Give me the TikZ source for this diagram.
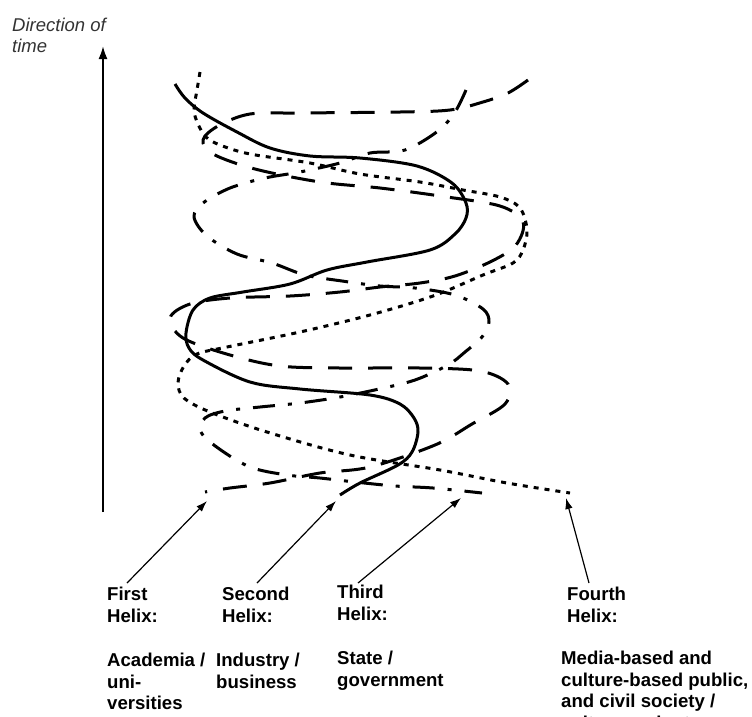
\documentclass[tikz,border=0pt]{standalone}
\usepackage{fontspec}
\setmainfont{Liberation Sans}
\usetikzlibrary{arrows.meta}
\begin{document}
\begin{tikzpicture}[x=1pt,y=-1pt,
  strand/.style={line width=3pt, line cap=butt, line join=round},
  helixA/.style={strand, dash pattern=on 24pt off 16pt},
  helixB/.style={strand},
  helixC/.style={strand, dash pattern=on 22pt off 13pt on 4pt off 13pt},
  helixD/.style={strand, dash pattern=on 5pt off 6pt},
  pointer/.style={line width=1.2pt, -{Latex[length=11pt,width=7.5pt]}},
  helixlabel/.style={anchor=north west, inner sep=0pt, align=left,
    font=\fontsize{18.6}{21.5}\selectfont\bfseries},
  curvy/.style={smooth, tension=0.55}]
\useasboundingbox (0,0) rectangle (752,716);
\clip (0,0) rectangle (752,716);

% time axis
\coordinate (tbot) at (103,512);
\coordinate (ttop) at (103,46);
\draw[line width=2pt, -{Latex[length=13pt,width=9pt]}] (tbot) -- (ttop);
\node[anchor=north west, inner sep=0pt, align=left, text=black!80,
  font=\fontsize{18.5}{20.5}\selectfont\itshape] (timelabel) at (12,18) {Direction of\\time};

% first helix (long dashes)
\draw[helixA] plot[curvy] coordinates {(528,80) (508,93) (483,102) (450,110) (400,112)
  (300,113) (250,114) (218,126) (203,140) (213,154) (255,169) (320,182) (380,188)
  (440,196) (500,206) (523,222) (516,245) (492,261) (455,276) (420,283) (380,287)
  (340,292) (290,296) (230,298) (190,304) (170,318) (183,338) (230,355) (280,366)
  (340,368) (420,368) (480,371) (508,384) (505,404) (472,424) (435,445) (370,467)
  (320,473) (270,483) (230,488) (205,492)};

% second helix (solid)
\draw[helixB] plot[curvy] coordinates {(175,84) (185,98) (203,113) (237,132) (270,148)
  (310,156) (360,158) (417,166) (452,183) (466,203) (466,218) (455,234) (430,250)
  (367,262) (327,270) (290,284) (243,292) (210,298) (193,310) (186,333) (189,348)
  (203,360) (250,382) (300,389) (370,395) (400,404) (414,418) (418,432) (412,452)
  (398,465) (360,483) (340,495)};

% third helix (dash-dot)
\draw[helixC] plot[curvy] coordinates {(466,90) (455,112) (438,131) (405,150) (370,153)
  (340,163) (300,172) (265,178) (230,188) (203,203) (194,217) (207,236) (237,254)
  (272,263) (305,275) (342,281) (380,286) (415,288) (455,295) (483,309) (489,322)
  (482,337) (465,352) (448,365) (415,380) (379,389) (340,397) (300,403) (260,407)
  (225,411) (205,418) (201,432) (218,448) (250,467) (287,475) (320,478) (355,482)
  (395,486) (433,488) (482,493)};

% fourth helix (dotted)
\draw[helixD] plot[curvy] coordinates {(200,72) (197,90) (194,110) (198,124) (206,137)
  (220,145) (250,154) (310,163) (360,174) (420,182) (463,190) (500,197) (520,208)
  (527,230) (523,250) (513,263) (483,275) (433,296) (370,315) (300,332) (227,347)
  (197,354) (184,366) (178,383) (184,398) (210,412) (267,432) (350,455) (440,470)
  (507,483) (570,493)};

% labels
\node[helixlabel] (h1) at (107,587) {First\\Helix:};
\node[helixlabel] (h2) at (222,587) {Second\\Helix:};
\node[helixlabel] (h3) at (337,585) {Third\\Helix:};
\node[helixlabel] (h4) at (567,587) {Fourth\\Helix:};
\node[helixlabel] (d1) at (107,653) {Academia /\\uni-\\versities};
\node[helixlabel] (d2) at (216,653) {Industry /\\business};
\node[helixlabel] (d3) at (337,651) {State /\\government};
\node[helixlabel] (d4) at (561,651) {Media-based and\\culture-based public,\\and civil society /\\culture and arts};

% pointers from labels to strand ends
\coordinate (p1) at (127,583); \coordinate (e1) at (207,501);
\coordinate (p2) at (257,583); \coordinate (e2) at (336,501);
\coordinate (p3) at (358,583); \coordinate (e3) at (461,498);
\coordinate (p4) at (589,583); \coordinate (e4) at (566,498);
\draw[pointer] (p1) -- (e1);
\draw[pointer] (p2) -- (e2);
\draw[pointer] (p3) -- (e3);
\draw[pointer] (p4) -- (e4);
\end{tikzpicture}
\end{document}
